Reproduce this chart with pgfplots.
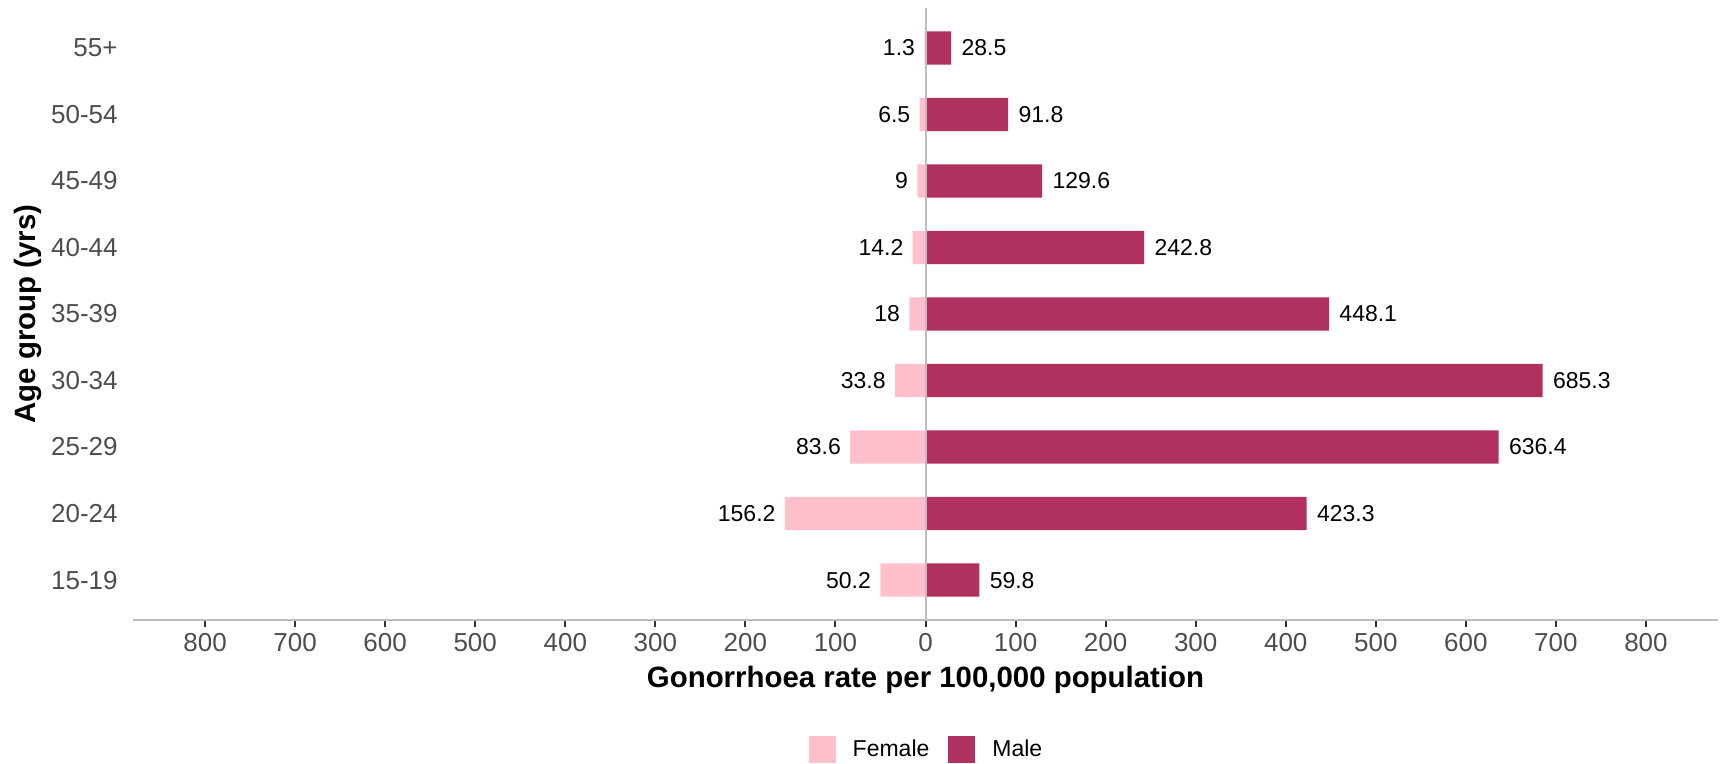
\documentclass[border=0pt]{standalone}
\usepackage{pgfplots}
\pgfplotsset{compat=1.18}
\usepackage{fontspec}
\setmainfont{Liberation Sans}
\definecolor{femalec}{HTML}{FFC0CB}
\definecolor{malec}{HTML}{B03060}
\definecolor{tickc}{HTML}{4D4D4D}
\definecolor{linec}{HTML}{BEBEBE}
\begin{document}
\begin{tikzpicture}
\useasboundingbox (-66.5pt,-72pt) rectangle (798pt,310pt);
\begin{axis}[
  at={(0pt,0pt)}, anchor=south west,
  scale only axis, width=792.5pt, height=306pt,
  xbar, bar width=0.5, bar shift=0pt,
  xmin=-880, xmax=880, ymin=0.4, ymax=9.6,
  axis lines=left,
  x axis line style={linec, line width=1pt, -},
  y axis line style={draw=none},
  xtick={-800,-700,...,800},
  xticklabels={800,700,600,500,400,300,200,100,0,100,200,300,400,500,600,700,800},
  ytick={1,...,9},
  yticklabels={15-19,20-24,25-29,30-34,35-39,40-44,45-49,50-54,55+},
  tick align=outside, major tick length=3.5pt,
  xtick style={draw=black!80, line width=1pt},
  ytick style={draw=none},
  xticklabel style={font=\fontsize{13}{15}\selectfont, text=tickc, inner sep=0pt, yshift=-3pt},
  yticklabel style={font=\fontsize{13}{15}\selectfont, text=tickc, inner sep=0pt, anchor=east, xshift=-4pt},
  xlabel={Gonorrhoea rate per 100,000 population},
  xlabel style={font=\fontsize{14.7}{17}\selectfont\bfseries, at={(axis description cs:0.5,-0.098)}, anchor=center},
  ylabel={Age group (yrs)},
  ylabel style={font=\fontsize{14.7}{17}\selectfont\bfseries, at={(axis description cs:-0.066,0.5)}, anchor=center},
  point meta=explicit symbolic,
  nodes near coords,
  every node near coord/.append style={font=\fontsize{11.5}{13}\selectfont, text=black, inner sep=0pt},
  legend columns=2,
  legend style={draw=none, fill=none, at={(axis description cs:0.5,-0.2124)}, anchor=center,
    font=\fontsize{11.5}{13}\selectfont, inner sep=0pt, nodes={inner sep=0pt},
    /tikz/every odd column/.append style={column sep=8.5pt},
    /tikz/every even column/.append style={column sep=9.5pt}},
  legend image code/.code={\fill[#1,draw=none] (0pt,-6.75pt) rectangle (13.5pt,6.75pt);},
  clip=false,
]
\addplot[fill=femalec, draw=none,
  every node near coord/.append style={anchor=east, xshift=-4.5pt}]
  coordinates {(-50.2,1) [50.2] (-156.2,2) [156.2] (-83.6,3) [83.6] (-33.8,4) [33.8]
    (-18,5) [18] (-14.2,6) [14.2] (-9,7) [9] (-6.5,8) [6.5] (-1.3,9) [1.3]};
\addlegendentry{Female}
\addplot[fill=malec, draw=none,
  every node near coord/.append style={anchor=west, xshift=5pt}]
  coordinates {(59.8,1) [59.8] (423.3,2) [423.3] (636.4,3) [636.4] (685.3,4) [685.3]
    (448.1,5) [448.1] (242.8,6) [242.8] (129.6,7) [129.6] (91.8,8) [91.8] (28.5,9) [28.5]};
\addlegendentry{Male}
\draw[linec, line width=1pt] (axis cs:0,0.4) -- (axis cs:0,9.6);
\end{axis}
\end{tikzpicture}
\end{document}
